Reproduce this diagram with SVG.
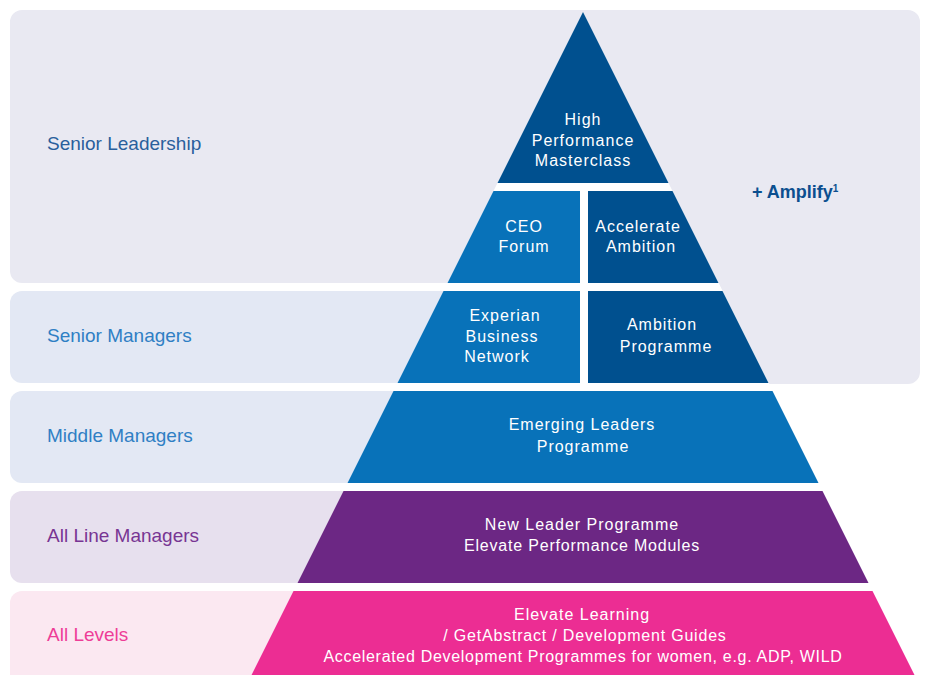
<svg xmlns="http://www.w3.org/2000/svg" width="925" height="675" viewBox="0 0 925 675">
<style>
.lbl{font-family:"Liberation Sans",Arial,sans-serif;font-size:19px}
.pt{font-family:"Liberation Sans",Arial,sans-serif;font-size:16px;fill:#ffffff;text-anchor:middle;letter-spacing:1px}
.dark{fill:#00508f}
.mid{fill:#0872b9}
</style>
<rect width="925" height="675" fill="#ffffff"/>
<g id="panels">
<path id="panel-senior-leadership" d="M22,10 H908 A12,12 0 0 1 920,22 V372 A12,12 0 0 1 908,384 H769 L718.5,283 H22 A12,12 0 0 1 10,271 V22 A12,12 0 0 1 22,10 Z" fill="#e9e9f2"/>
<rect id="panel-senior-managers" x="10" y="291" width="520" height="92" rx="12" fill="#e3e8f4"/>
<rect id="panel-middle-managers" x="10" y="391" width="460" height="92" rx="12" fill="#e3e8f4"/>
<rect id="panel-line-managers" x="10" y="491" width="400" height="92" rx="12" fill="#e7e0ee"/>
<rect id="panel-all-levels" x="10" y="591" width="350" height="100" rx="12" fill="#fbe8f1"/>
<polygon points="583,12 914.5,675 251.5,675" fill="#ffffff"/>
</g>
<g id="labels">
<text class="lbl" x="47" y="150" fill="#2a5f9c">Senior Leadership</text>
<text class="lbl" x="47" y="342" fill="#2f7fc4">Senior Managers</text>
<text class="lbl" x="47" y="442" fill="#2f7fc4">Middle Managers</text>
<text class="lbl" x="47" y="542" fill="#783593">All Line Managers</text>
<text class="lbl" x="47" y="641" fill="#ee3d97">All Levels</text>
</g>
<g id="node-high-performance">
<polygon class="dark" points="583,12 668.5,183 497.5,183"/>
<text class="pt" x="583" y="125">High</text>
<text class="pt" x="583" y="146">Performance</text>
<text class="pt" x="583" y="166">Masterclass</text>
</g>
<g id="node-ceo-forum">
<polygon class="mid" points="493.5,191 580,191 580,283 447.5,283"/>
<text class="pt" x="524" y="231.5">CEO</text>
<text class="pt" x="524" y="252">Forum</text>
</g>
<g id="node-accelerate-ambition">
<polygon class="dark" points="588,191 672.5,191 718.5,283 588,283"/>
<text class="pt" x="638" y="231.5">Accelerate</text>
<text class="pt" x="641" y="252">Ambition</text>
</g>
<g id="node-experian">
<polygon class="mid" points="443.5,291 580,291 580,383 397.5,383"/>
<text class="pt" x="505" y="320.5">Experian</text>
<text class="pt" x="502" y="341.5">Business</text>
<text class="pt" x="497" y="362">Network</text>
</g>
<g id="node-ambition-programme">
<polygon class="dark" points="588,291 722.5,291 768.5,383 588,383"/>
<text class="pt" x="662" y="330">Ambition</text>
<text class="pt" x="666" y="351.5">Programme</text>
</g>
<g id="node-emerging-leaders">
<polygon class="mid" points="393.5,391 772.5,391 818.5,483 347.5,483"/>
<text class="pt" x="582" y="430">Emerging Leaders</text>
<text class="pt" x="583" y="451.5">Programme</text>
</g>
<g id="node-new-leader">
<polygon points="343.5,491 822.5,491 868.5,583 297.5,583" fill="#6c2784"/>
<text class="pt" x="582" y="530">New Leader Programme</text>
<text class="pt" x="582" y="551" style="letter-spacing:0.8px">Elevate Performance Modules</text>
</g>
<g id="node-elevate-learning">
<polygon points="293.5,591 872.5,591 914.5,675 251.5,675" fill="#ec2d93"/>
<text class="pt" x="582" y="619.5">Elevate Learning</text>
<text class="pt" x="585" y="641" style="letter-spacing:0.8px">/ GetAbstract / Development Guides</text>
<text class="pt" x="583" y="662" style="letter-spacing:0.7px">Accelerated Development Programmes for women, e.g. ADP, WILD</text>
</g>
<g id="node-amplify">
<text x="752" y="198" font-family="'Liberation Sans',Arial,sans-serif" font-size="18" font-weight="bold" fill="#0c4f8f">+ Amplify<tspan font-size="10" dy="-6">1</tspan></text>
</g>
<g id="connectors"/>
</svg>
